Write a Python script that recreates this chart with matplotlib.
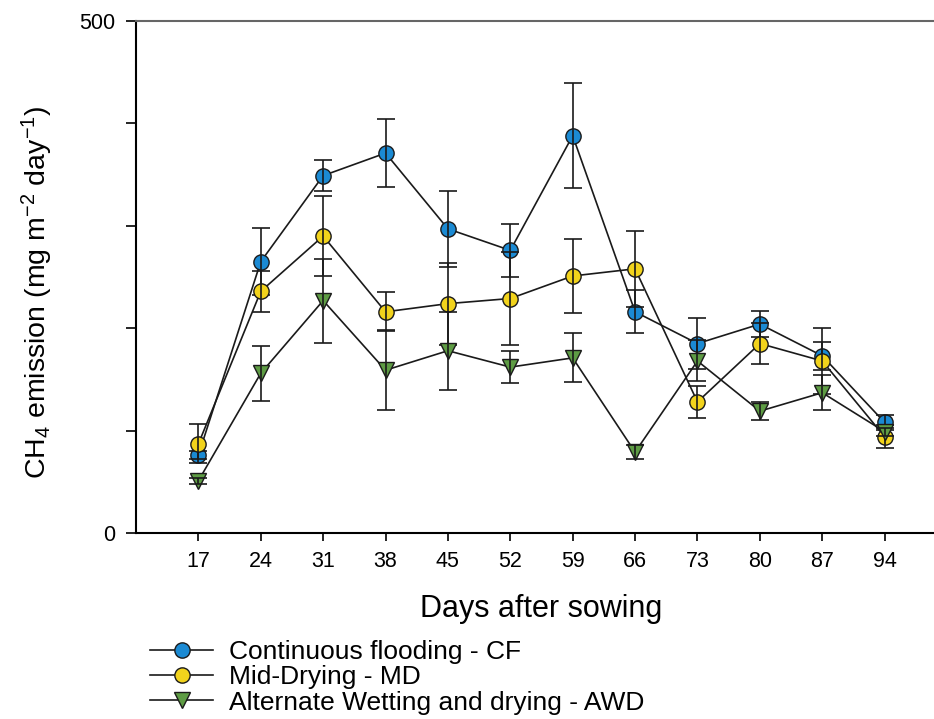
import numpy as np
import matplotlib
matplotlib.use("Agg")
import matplotlib.pyplot as plt
from matplotlib.ticker import FixedLocator, FuncFormatter

plt.rcParams.update(
    {
        "font.family": ["Liberation Sans", "DejaVu Sans"],
        "mathtext.fontset": "custom",
        "mathtext.rm": "Liberation Sans",
        "mathtext.it": "Liberation Sans:italic",
    }
)

days = [17, 24, 31, 38, 45, 52, 59, 66, 73, 80, 87, 94]

cf = [76, 265, 349, 371, 297, 276, 388, 216, 185, 204, 173, 108]
cf_err = [4, 33, 15, 33, 37, 26, 51, 21, 25, 13, 14, 7]

md = [87, 236, 290, 216, 224, 229, 251, 258, 128, 185, 168, 94]
md_err = [19, 20, 39, 19, 40, 45, 36, 37, 16, 20, 32, 11]

awd = [51, 156, 227, 159, 178, 162, 171, 79, 168, 119, 137, 99]
awd_err = [3, 27, 41, 39, 38, 16, 24, 7, 20, 9, 17, 4]

labels = [
    "Continuous flooding - CF",
    "Mid-Drying - MD",
    "Alternate Wetting and drying - AWD",
]

fig = plt.figure(figsize=(9.34, 7.19), dpi=100)
ax = fig.add_axes([136 / 934, 1 - 533 / 719, (947 - 136) / 934, (533 - 21) / 719])

series = [
    (cf, cf_err, "o", "#1b8ad3"),
    (md, md_err, "o", "#f2d31c"),
    (awd, awd_err, "v", "#5e9c44"),
]

handles = []
for (vals, errs, mk, col), lab in zip(series, labels):
    (ln,) = ax.plot(
        days,
        vals,
        "-",
        color="#1a1a1a",
        lw=1.2,
        marker=mk,
        ms=11,
        mfc=col,
        mec="#1a1a1a",
        mew=1.0,
        label=lab,
    )
    ax.errorbar(
        days,
        vals,
        yerr=errs,
        fmt="none",
        ecolor="#1a1a1a",
        elinewidth=1.2,
        capsize=6.5,
        capthick=1.2,
    )
    handles.append(ln)

ax.set_xlim(10, 101)
ax.set_ylim(0, 500)
ax.set_xticks(days)
ax.yaxis.set_major_locator(FixedLocator([0, 100, 200, 300, 400, 500]))
ax.yaxis.set_major_formatter(
    FuncFormatter(lambda v, p: f"{int(v)}" if v in (0, 500) else "")
)
ax.tick_params(axis="x", labelsize=15.5, length=6, width=1.2, pad=7)
ax.tick_params(axis="y", labelsize=15.5, length=7, width=1.2, pad=8)

ax.spines["right"].set_visible(False)
ax.spines["top"].set_color("#666666")
for s in ["left", "bottom", "top"]:
    ax.spines[s].set_linewidth(1.5)

ax.set_xlabel("Days after sowing", fontsize=22, labelpad=16)
ax.set_ylabel(
    r"CH$_4$ emission (mg m$^{-2}$ day$^{-1}$)", fontsize=20.5, labelpad=22
)
ax.yaxis.set_label_coords(-0.100, 0.47)

fig.legend(
    handles=handles,
    loc="upper left",
    bbox_to_anchor=(150 / 934, 1 - 640 / 719),
    frameon=False,
    fontsize=19,
    handlelength=2.4,
    handletextpad=0.6,
    labelspacing=0.05,
    borderpad=0,
    borderaxespad=0,
    numpoints=1,
)

fig.savefig("out.png", dpi=100)
